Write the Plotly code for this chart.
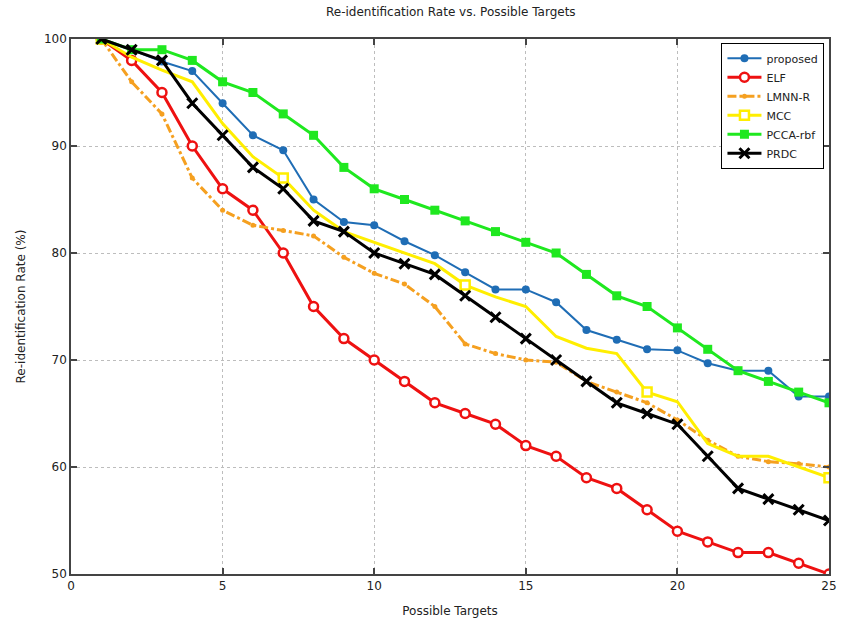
import plotly.graph_objects as go

targets = list(range(1, 26))

proposed = [100, 99, 97.9, 97, 94, 91, 89.6, 85, 82.9, 82.6, 81.1, 79.8, 78.2, 76.6, 76.6,
            75.4, 72.8, 71.9, 71.0, 70.9, 69.7, 69.0, 69.0, 66.6, 66.6]
elf = [100, 98, 95, 90, 86, 84, 80, 75, 72, 70, 68, 66, 65, 64, 62,
       61, 59, 58, 56, 54, 53, 52, 52, 51, 50]
lmnn_r = [100, 96, 93, 87, 84, 82.6, 82.1, 81.6, 79.6, 78.1, 77.1, 75, 71.5, 70.6, 70,
          69.8, 68, 67, 66, 64.4, 62.5, 61, 60.5, 60.3, 60]
mcc = [100, 98.3, 97.1, 96, 92.1, 89, 87, 84, 82, 81, 80, 79, 77, 75.9, 75,
       72.2, 71.1, 70.6, 67, 66.1, 62.2, 61, 61, 60, 59]
pcca_rbf = [100, 99, 99, 98, 96, 95, 93, 91, 88, 86, 85, 84, 83, 82, 81,
            80, 78, 76, 75, 73, 71, 69, 68, 67, 66]
prdc = [100, 99, 98, 94, 91, 88, 86, 83, 82, 80, 79, 78, 76, 74, 72,
        70, 68, 66, 65, 64, 61, 58, 57, 56, 55]

mcc_marked = [1, 7, 13, 19, 25]

FONT = "DejaVu Sans"

fig = go.Figure()

fig.add_trace(go.Scatter(
    x=targets, y=proposed, name="proposed", mode="lines+markers",
    line=dict(color="#1f6db5", width=2),
    marker=dict(symbol="circle", size=8, color="#1f6db5")))

fig.add_trace(go.Scatter(
    x=targets, y=elf, name="ELF", mode="lines+markers",
    line=dict(color="#ee1111", width=3),
    marker=dict(symbol="circle", size=9, color="white",
                line=dict(color="#ee1111", width=2.5))))

fig.add_trace(go.Scatter(
    x=targets, y=lmnn_r, name="LMNN-R", mode="lines+markers",
    line=dict(color="#f5a020", width=3, dash="dashdot"),
    marker=dict(symbol="circle", size=5, color="#f5a020")))

mcc_fill = ["white" if t in mcc_marked else "rgba(0,0,0,0)" for t in targets]
mcc_edge = ["#ffee00" if t in mcc_marked else "rgba(0,0,0,0)" for t in targets]
fig.add_trace(go.Scatter(
    x=targets, y=mcc, name="MCC", mode="lines+markers",
    line=dict(color="#ffee00", width=3),
    marker=dict(symbol="square", size=9, color=mcc_fill,
                line=dict(color=mcc_edge, width=2.5))))

fig.add_trace(go.Scatter(
    x=targets, y=pcca_rbf, name="PCCA-rbf", mode="lines+markers",
    line=dict(color="#1fe81f", width=3),
    marker=dict(symbol="square", size=9, color="#1fe81f")))

fig.add_trace(go.Scatter(
    x=targets, y=prdc, name="PRDC", mode="lines+markers",
    line=dict(color="black", width=3),
    marker=dict(symbol="x-thin", size=10, color="black",
                line=dict(color="black", width=3))))

axis_common = dict(
    showline=True, linecolor="#444444", linewidth=1.5, mirror="ticks",
    ticks="inside", ticklen=6, tickcolor="#444444", tickwidth=1.5,
    showgrid=True, gridcolor="#bdbdbd", griddash="dot", gridwidth=1,
    zeroline=False, tickfont=dict(family=FONT, size=12, color="#222222"),
)

fig.update_layout(
    width=849, height=632,
    margin=dict(l=71, r=12, t=39, b=58),
    paper_bgcolor="white", plot_bgcolor="white",
    font=dict(family=FONT, size=12, color="#222222"),
    title=dict(text="Re-identification Rate vs. Possible Targets",
               x=0.531, xanchor="center", y=0.988, yanchor="top",
               font=dict(family=FONT, size=12, color="#222222")),
    xaxis=dict(range=[0, 25], tickvals=[0, 5, 10, 15, 20, 25],
               title=dict(text="Possible Targets", standoff=14,
                          font=dict(family=FONT, size=12)),
               **axis_common),
    yaxis=dict(range=[50, 100], tickvals=[50, 60, 70, 80, 90, 100],
               title=dict(text="Re-identification Rate (%)", standoff=16,
                          font=dict(family=FONT, size=12)),
               **axis_common),
    legend=dict(x=0.994, xanchor="right", y=0.993, yanchor="top",
                bgcolor="white", bordercolor="black", borderwidth=1,
                font=dict(family=FONT, size=11, color="#222222"),
                tracegroupgap=0, itemwidth=34),
    showlegend=True,
)

fig.write_html("out.html")
